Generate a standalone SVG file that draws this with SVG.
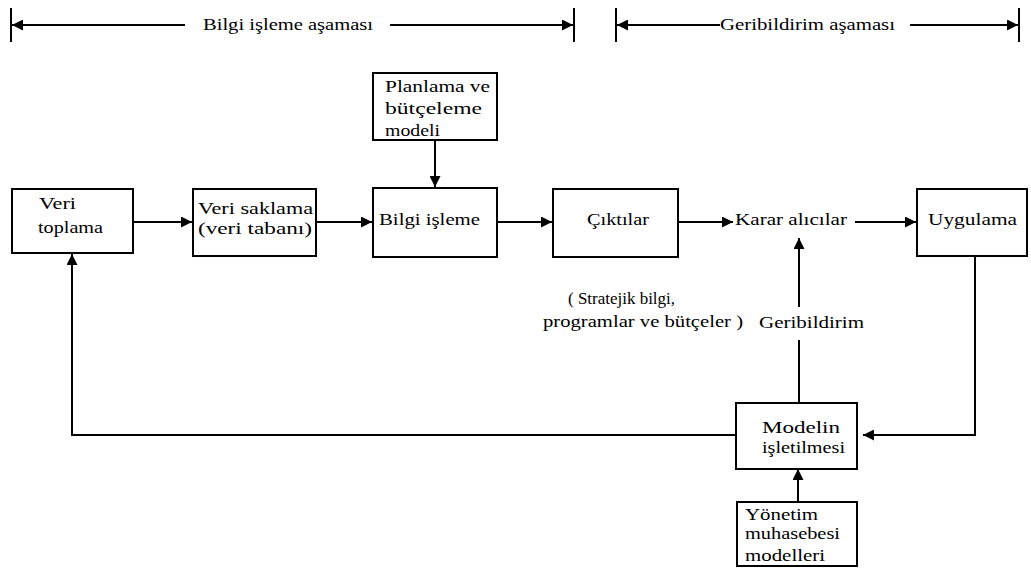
<svg xmlns="http://www.w3.org/2000/svg" width="1031" height="568" viewBox="0 0 1031 568" font-family="'Liberation Serif', 'DejaVu Serif', serif">
  <style>
    text { font-family: "Liberation Serif", "DejaVu Serif", serif; font-size: 16px; fill: #000; }
    .box { fill: #fff; stroke: #000; stroke-width: 2; }
    .ln { fill: none; stroke: #000; stroke-width: 2; }
  </style>
  <defs>
    <marker id="ahb" viewBox="0 0 10 10" refX="10" refY="5" markerWidth="13" markerHeight="11" orient="auto" markerUnits="userSpaceOnUse">
      <path d="M0,0 L10,5 L0,10 z" fill="#000"/>
    </marker>
  </defs>
  <rect width="1031" height="568" fill="#fff"/>

  <!-- phase brackets -->
  <g id="phases">
    <line class="ln" x1="11" y1="8" x2="11" y2="42"/>
    <line class="ln" x1="574" y1="8" x2="574" y2="42"/>
    <line class="ln" x1="616" y1="8" x2="616" y2="42"/>
    <line class="ln" x1="1019" y1="8" x2="1019" y2="42"/>
    <line class="ln" x1="185" y1="25" x2="12" y2="25" marker-end="url(#ahb)"/>
    <line class="ln" x1="390" y1="25" x2="573" y2="25" marker-end="url(#ahb)"/>
    <line class="ln" x1="720" y1="25" x2="617" y2="25" marker-end="url(#ahb)"/>
    <line class="ln" x1="910" y1="25" x2="1018" y2="25" marker-end="url(#ahb)"/>
    <text x="203" y="30" textLength="170" lengthAdjust="spacingAndGlyphs">Bilgi işleme aşaması</text>
    <text x="720" y="30" textLength="175" lengthAdjust="spacingAndGlyphs">Geribildirim aşaması</text>
  </g>

  <!-- connectors -->
  <g id="connectors">
    <line class="ln" x1="133" y1="222" x2="192" y2="222" marker-end="url(#ahb)"/>
    <line class="ln" x1="316" y1="222" x2="372" y2="222" marker-end="url(#ahb)"/>
    <line class="ln" x1="435" y1="140" x2="435" y2="187" marker-end="url(#ahb)"/>
    <line class="ln" x1="497" y1="222" x2="552" y2="222" marker-end="url(#ahb)"/>
    <line class="ln" x1="678" y1="222" x2="733" y2="222" marker-end="url(#ahb)"/>
    <line class="ln" x1="855" y1="222" x2="916" y2="222" marker-end="url(#ahb)"/>
    <line class="ln" x1="799" y1="307" x2="799" y2="238" marker-end="url(#ahb)"/>
    <line class="ln" x1="799" y1="340" x2="799" y2="403"/>
    <polyline class="ln" points="975,256 975,435 863,435" marker-end="url(#ahb)"/>
    <polyline class="ln" points="736,435 72,435 72,254" marker-end="url(#ahb)"/>
    <line class="ln" x1="798" y1="502" x2="798" y2="469" marker-end="url(#ahb)"/>
  </g>

  <g id="veri-toplama">
    <rect class="box" x="12" y="189" width="121" height="64"/>
    <text x="39" y="209" textLength="37" lengthAdjust="spacingAndGlyphs">Veri</text>
    <text x="38" y="233" textLength="65" lengthAdjust="spacingAndGlyphs">toplama</text>
  </g>
  <g id="veri-saklama">
    <rect class="box" x="193" y="189" width="123" height="67"/>
    <text x="198" y="214" textLength="115" lengthAdjust="spacingAndGlyphs">Veri saklama</text>
    <text x="198" y="234" textLength="114" lengthAdjust="spacingAndGlyphs">(veri tabanı)</text>
  </g>
  <g id="planlama">
    <rect class="box" x="373" y="73" width="124" height="67"/>
    <text x="385" y="92" textLength="105" lengthAdjust="spacingAndGlyphs">Planlama ve</text>
    <text x="385" y="114" textLength="97" lengthAdjust="spacingAndGlyphs">bütçeleme</text>
    <text x="385" y="136" textLength="55" lengthAdjust="spacingAndGlyphs">modeli</text>
  </g>
  <g id="bilgi-isleme">
    <rect class="box" x="373" y="188" width="124" height="69"/>
    <text x="379" y="225" textLength="101" lengthAdjust="spacingAndGlyphs">Bilgi işleme</text>
  </g>
  <g id="ciktilar">
    <rect class="box" x="553" y="189" width="125" height="68"/>
    <text x="587" y="225" textLength="62" lengthAdjust="spacingAndGlyphs">Çıktılar</text>
    <text x="568" y="304" textLength="107" lengthAdjust="spacingAndGlyphs">( Stratejik bilgi,</text>
    <text x="543" y="327" textLength="200" lengthAdjust="spacingAndGlyphs">programlar ve bütçeler )</text>
  </g>
  <g id="karar-alicilar">
    <text x="735" y="225" textLength="112" lengthAdjust="spacingAndGlyphs">Karar alıcılar</text>
  </g>
  <g id="uygulama">
    <rect class="box" x="917" y="189" width="110" height="67"/>
    <text x="928" y="225" textLength="89" lengthAdjust="spacingAndGlyphs">Uygulama</text>
  </g>
  <g id="geribildirim">
    <text x="759" y="328" textLength="105" lengthAdjust="spacingAndGlyphs">Geribildirim</text>
  </g>
  <g id="modelin">
    <rect class="box" x="736" y="403" width="121" height="66"/>
    <text x="762" y="433" textLength="78" lengthAdjust="spacingAndGlyphs">Modelin</text>
    <text x="762" y="453" textLength="83" lengthAdjust="spacingAndGlyphs">işletilmesi</text>
  </g>
  <g id="yonetim">
    <rect class="box" x="737" y="502" width="120" height="64"/>
    <text x="745" y="520" textLength="73" lengthAdjust="spacingAndGlyphs">Yönetim</text>
    <text x="745" y="539" textLength="95" lengthAdjust="spacingAndGlyphs">muhasebesi</text>
    <text x="745" y="561" textLength="80" lengthAdjust="spacingAndGlyphs">modelleri</text>
  </g>
</svg>
